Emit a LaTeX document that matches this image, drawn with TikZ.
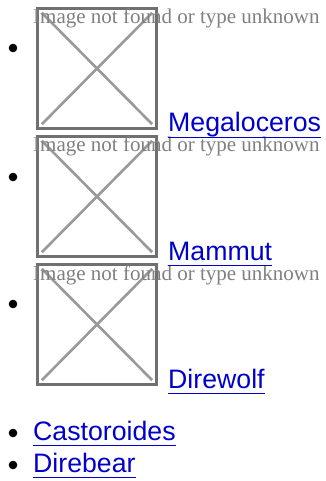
\documentclass[tikz,border=0pt]{standalone}
\usepackage{fontspec}
\usepackage{tikz}
\usetikzlibrary{positioning}
\newfontfamily\altfont{Liberation Serif}
\newfontfamily\linkfont{Liberation Sans}

\begin{document}
\begin{tikzpicture}[x=1pt,y=-1pt,
  bul/.style={circle,fill=black,inner sep=0pt,minimum size=8.6pt},
  imgbox/.style={draw=cbox,line width=3pt,inner sep=0pt,minimum width=119pt,minimum height=120pt},
  imgin/.style={inner sep=0pt,minimum width=110pt,minimum height=111pt},
  alttext/.style={anchor=base west,inner sep=0pt,text=calt,font=\altfont\fontsize{21}{21}\selectfont},
  link/.style={anchor=base west,inner sep=0pt,text=clink,text depth=5.5pt,font=\linkfont\fontsize{26.7}{26.7}\selectfont},
  uline/.style={draw=clink,line width=1.3pt},
  cross/.style={draw=ccross,line width=2.6pt}]
%
\useasboundingbox (0,0) rectangle (325,481);
%
\definecolor{cbox}{rgb}{0.44,0.44,0.44}
\definecolor{ccross}{rgb}{0.6,0.6,0.6}
\definecolor{calt}{rgb}{0.5,0.5,0.5}
\definecolor{clink}{rgb}{0.0,0.0,0.8}
%
\node[bul] (b1) at (13,48) {};
\node[bul] (b2) at (13,177) {};
\node[bul] (b3) at (13,304) {};
\node[bul] (b4) at (13,433) {};
\node[bul] (b5) at (13,465) {};
%
\node[imgbox] (img1) at (97,68.5) {};
\node[imgbox] (img2) at (97,196.5) {};
\node[imgbox] (img3) at (97,324.5) {};
\node[imgin] (in1) at (img1.center) {};
\node[imgin] (in2) at (img2.center) {};
\node[imgin] (in3) at (img3.center) {};
%
\draw[cross] (in1.north west) -- (in1.south east);
\draw[cross] (in1.south west) -- (in1.north east);
\draw[cross] (in2.north west) -- (in2.south east);
\draw[cross] (in2.south west) -- (in2.north east);
\draw[cross] (in3.north west) -- (in3.south east);
\draw[cross] (in3.south west) -- (in3.north east);
%
\node[alttext] (alt1) at (33,24) {Image not found or type unknown};
\node[alttext] (alt2) at (33,152) {Image not found or type unknown};
\node[alttext] (alt3) at (33,280) {Image not found or type unknown};
%
\node[link] (megaloceros) at (168,131.5) {Megaloceros};
\node[link] (mammut) at (168,260) {Mammut};
\node[link] (direwolf) at (168,388) {Direwolf};
\node[link] (castoroides) at (33,440) {Castoroides};
\node[link] (direbear) at (33,472) {Direbear};
%
\draw[uline] (megaloceros.south west) -- (megaloceros.south east);
\draw[uline] (mammut.south west) -- (mammut.south east);
\draw[uline] (direwolf.south west) -- (direwolf.south east);
\draw[uline] (castoroides.south west) -- (castoroides.south east);
\draw[uline] (direbear.south west) -- (direbear.south east);
%
\end{tikzpicture}
\end{document}
